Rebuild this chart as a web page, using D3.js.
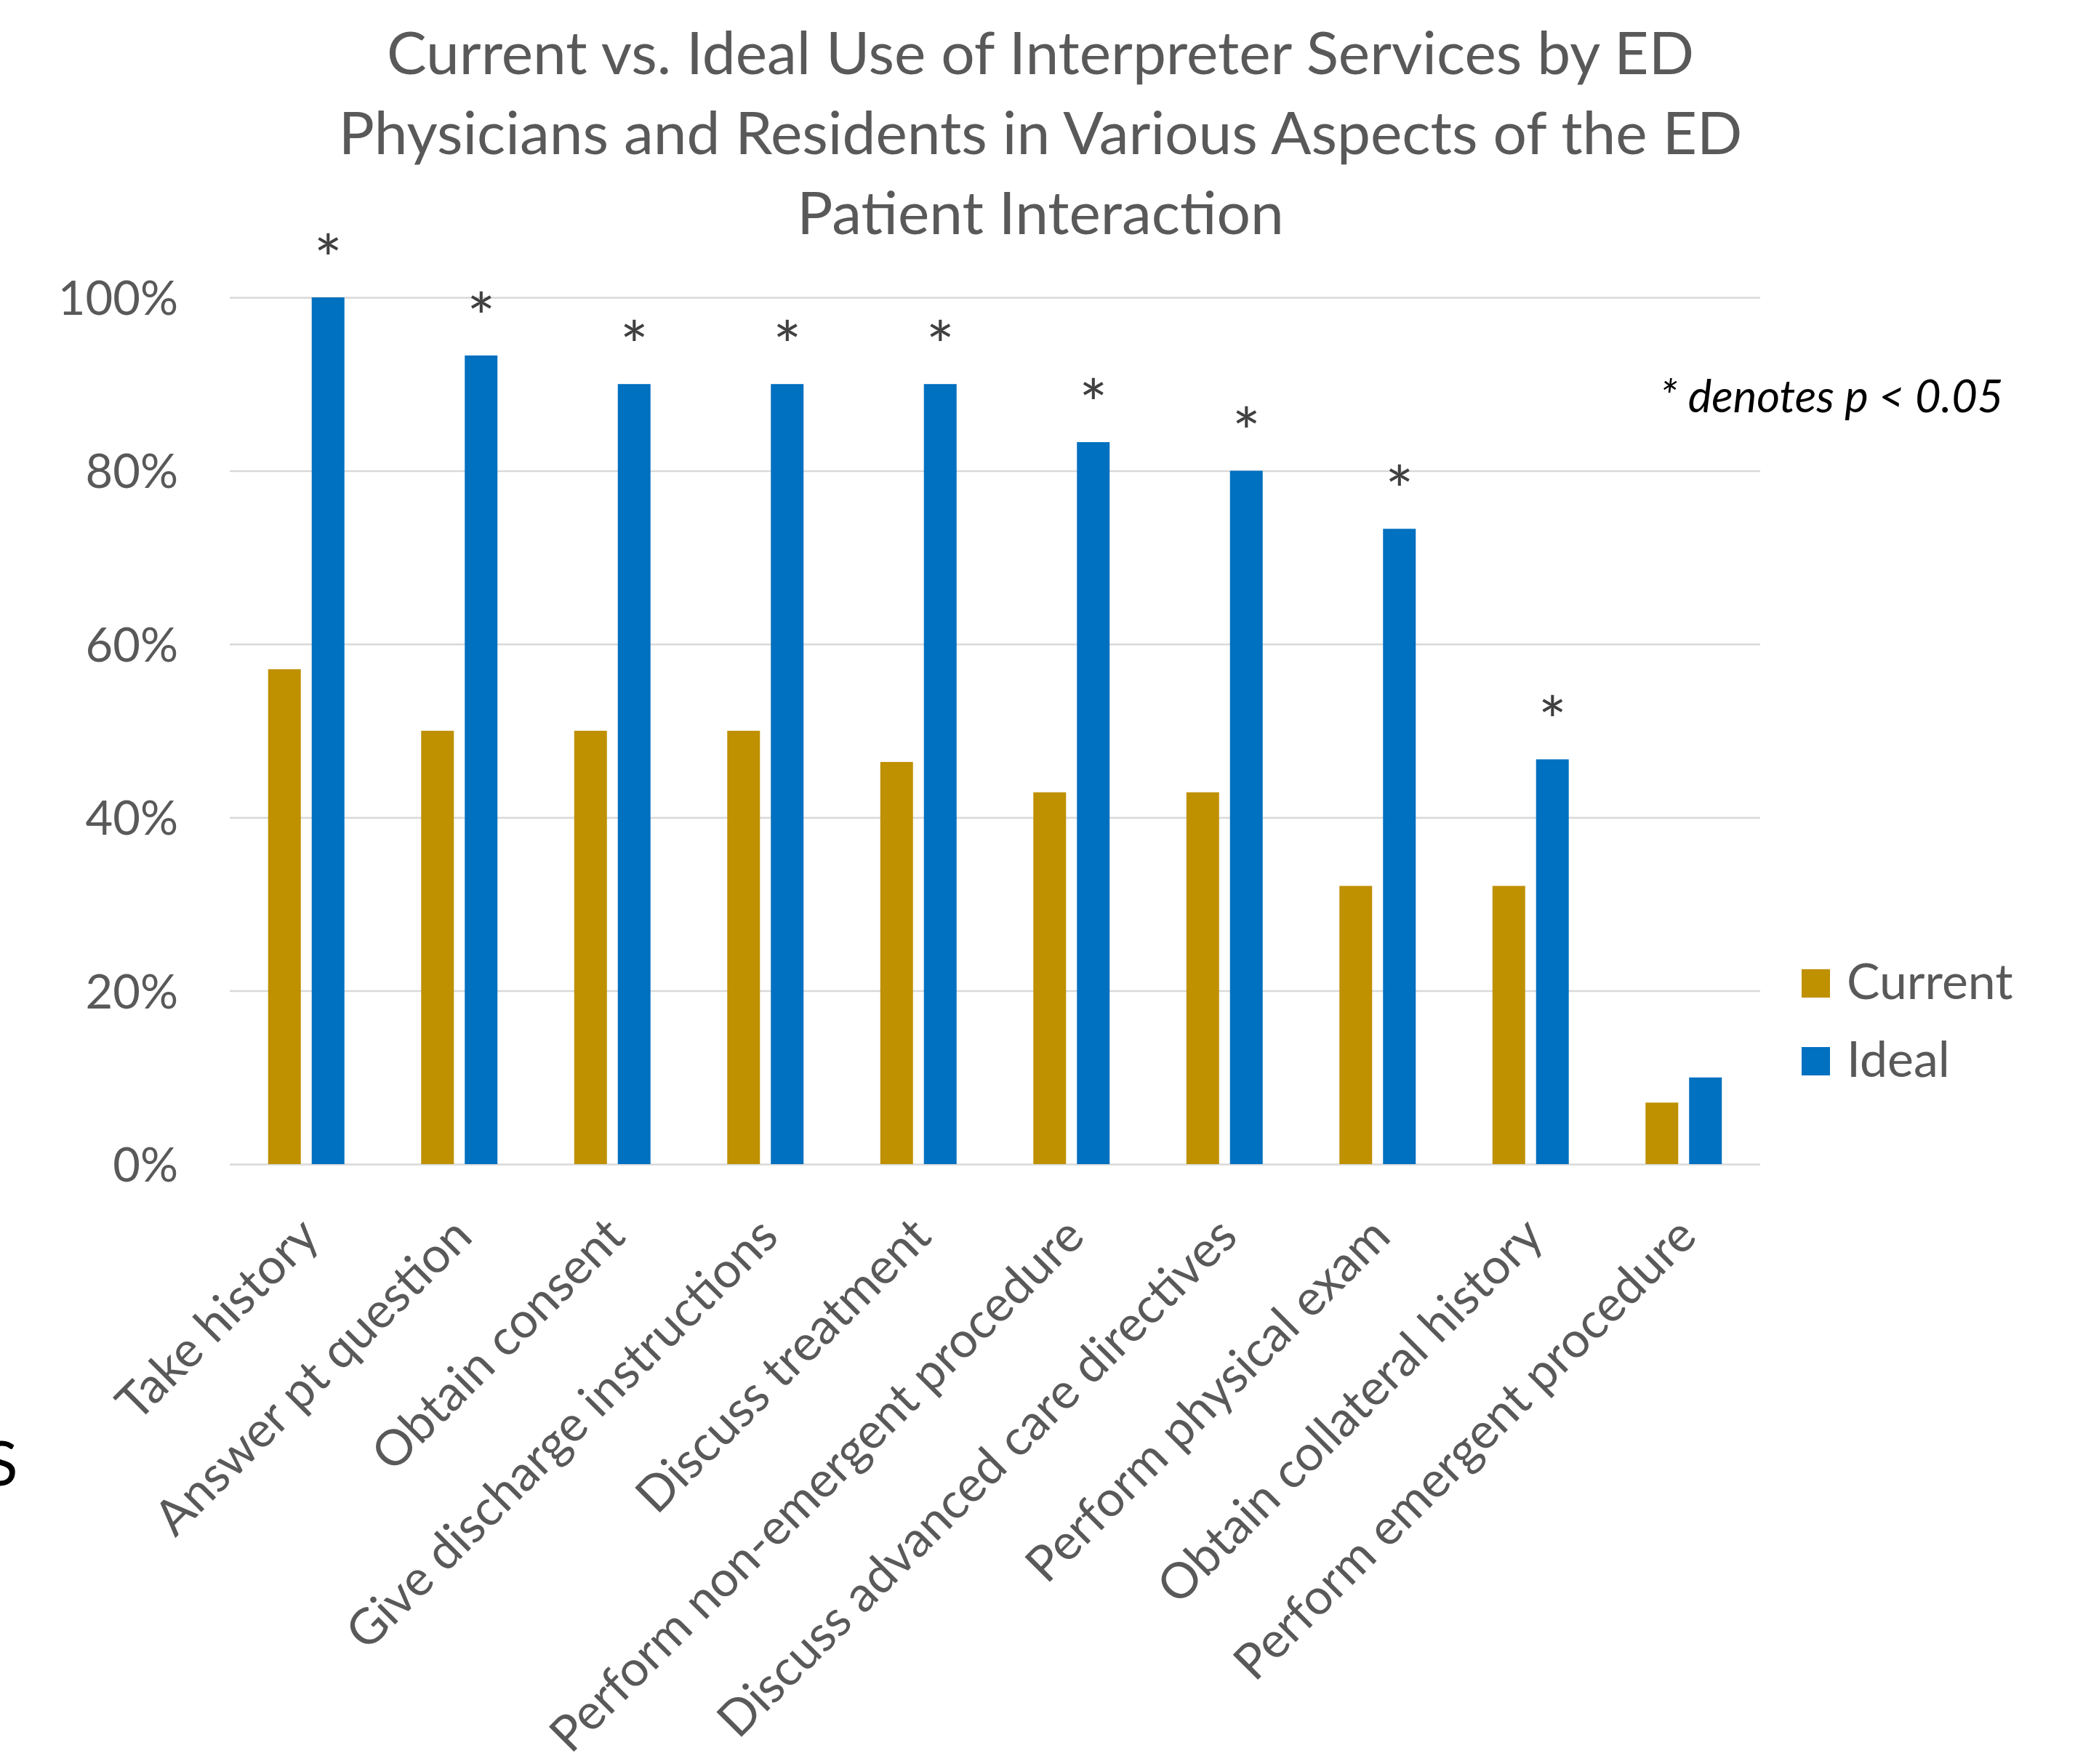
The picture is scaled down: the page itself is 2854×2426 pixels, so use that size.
<!DOCTYPE html>
<html>
<head>
<meta charset="utf-8">
<script src="https://cdn.jsdelivr.net/npm/d3@7"></script>
<style>
  body { margin: 0; background: #fff; }
  svg { font-family: Lato, "Open Sans", sans-serif; }
</style>
</head>
<body>
<script>
    const width = 2854;
    const height = 2426;

    // data (share of respondents)
    const categories = [
        "Take history", "Answer pt question", "Obtain consent",
        "Give discharge instructions", "Discuss treatment",
        "Perform non-emergent procedure", "Discuss advanced care directives",
        "Perform physical exam", "Obtain collateral history",
        "Perform emergent procedure"
    ];
    const series = ["Current", "Ideal"];
    const current = [0.571, 0.50, 0.50, 0.50, 0.464, 0.429, 0.429, 0.321, 0.321, 0.071];
    const ideal = [1.00, 0.933, 0.90, 0.90, 0.90, 0.833, 0.80, 0.733, 0.467, 0.10];
    const significant = [true, true, true, true, true, true, true, true, true, false];
    const yTicks = [0, 0.2, 0.4, 0.6, 0.8, 1.0];
    const titleLines = [
        "Current vs. Ideal Use of Interpreter Services by ED",
        "Physicians and Residents in Various Aspects of the ED",
        "Patient Interaction"
    ];

    const colors = { Current: "#BF9000", Ideal: "#0070C0" };
    const textColor = "#595959";

    const plotLeft = 316, plotRight = 2421, plotTop = 409, plotBottom = 1601;

    const svg = d3.select("body")
        .append("svg")
        .attr("width", width)
        .attr("height", height);

    // title
    svg.append("g")
        .attr("fill", textColor)
        .attr("font-size", 82)
        .attr("text-anchor", "middle")
        .selectAll("text")
        .data(titleLines)
        .join("text")
        .attr("x", 1431)
        .attr("y", (d, i) => 102 + i * 110)
        .text(d => d);

    const x0 = d3.scaleBand().domain(categories).range([plotLeft, plotRight]);
    const x1 = d3.scaleBand().domain(series).range([0, x0.bandwidth()])
        .paddingInner(0.25).paddingOuter(0.88);
    const y = d3.scaleLinear().domain([0, 1]).range([plotBottom, plotTop]);

    // y axis + gridlines
    const yAxis = svg.append("g")
        .attr("transform", `translate(${plotLeft},0)`)
        .call(d3.axisLeft(y).tickValues(yTicks).tickFormat(d3.format(".0%"))
            .tickSize(-(plotRight - plotLeft)).tickPadding(71));
    yAxis.select(".domain").remove();
    yAxis.selectAll("line").attr("stroke", "#d9d9d9").attr("stroke-width", 2.5);
    yAxis.selectAll("text")
        .attr("fill", textColor)
        .attr("font-size", 65)
        .attr("font-family", "Lato, sans-serif")
        .attr("dy", "0.36em");

    const rows = categories.map((c, i) => ({
        category: c,
        values: [
            { key: "Current", value: current[i] },
            { key: "Ideal", value: ideal[i] }
        ],
        sig: significant[i]
    }));

    const groups = svg.append("g")
        .selectAll("g")
        .data(rows)
        .join("g")
        .attr("transform", d => `translate(${x0(d.category)},0)`);

    groups.selectAll("rect")
        .data(d => d.values)
        .join("rect")
        .attr("x", d => x1(d.key))
        .attr("y", d => y(d.value))
        .attr("width", x1.bandwidth())
        .attr("height", d => y(0) - y(d.value))
        .attr("fill", d => colors[d.key]);

    // significance stars over the ideal bars
    groups.filter(d => d.sig)
        .append("text")
        .attr("x", x1("Ideal") + x1.bandwidth() / 2)
        .attr("y", d => y(d.values[1].value) - 20)
        .attr("text-anchor", "middle")
        .attr("fill", "#404040")
        .attr("font-size", 92)
        .text("*");

    // x axis labels
    const xAxis = svg.append("g")
        .attr("transform", `translate(0,${plotBottom})`)
        .call(d3.axisBottom(x0).tickSize(0));
    xAxis.select(".domain").remove();
    xAxis.selectAll("text")
        .attr("fill", textColor)
        .attr("font-size", 68)
        .attr("font-family", "Lato, sans-serif")
        .attr("text-anchor", "end")
        .attr("x", 0)
        .attr("y", 0)
        .attr("dy", "0.35em")
        .attr("transform", "translate(4,86) rotate(-45)");

    // legend
    const legend = svg.append("g")
        .selectAll("g")
        .data(series)
        .join("g")
        .attr("transform", (d, i) => `translate(2478,${1333 + i * 107})`);
    legend.append("rect")
        .attr("width", 39)
        .attr("height", 39)
        .attr("fill", d => colors[d]);
    legend.append("text")
        .attr("x", 62)
        .attr("y", 41)
        .attr("fill", textColor)
        .attr("font-size", 68)
        .text(d => d);

    // note
    svg.append("text")
        .attr("x", 2283)
        .attr("y", 567)
        .attr("font-size", 61.5)
        .attr("font-style", "italic")
        .attr("fill", "#000")
        .text("* denotes p < 0.05");

    // stray letter cut off at the left edge of the slide
    svg.append("text")
        .attr("x", -22)
        .attr("y", 2043)
        .attr("font-size", 86)
        .attr("fill", "#000")
        .text("S");
</script>
</body>
</html>
